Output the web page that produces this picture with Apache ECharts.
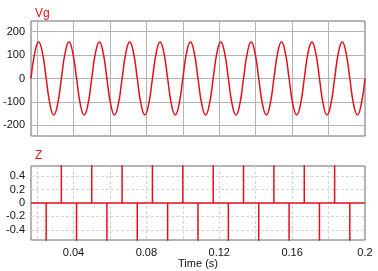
<!DOCTYPE html>
<html>
<head>
<meta charset="utf-8">
<script src="https://cdn.jsdelivr.net/npm/echarts@6/dist/echarts.min.js"></script>
<style>html,body{margin:0;padding:0;background:#fff}#c{width:378px;height:271px}</style>
</head>
<body>
<div id="c"></div>
<script>
// Time samples for Vg (s)
var vgTimes = [0.01667,0.01875,0.02083,0.02292,0.025,0.02708,0.02917,0.03125,0.03333,0.03542,0.0375,0.03958,0.04167,0.04375,0.04583,0.04792,0.05,0.05208,0.05417,0.05625,0.05833,0.06042,0.0625,0.06458,0.06667,0.06875,0.07083,0.07292,0.075,0.07708,0.07917,0.08125,0.08333,0.08542,0.0875,0.08958,0.09167,0.09375,0.09583,0.09792,0.1,0.10208,0.10417,0.10625,0.10833,0.11042,0.1125,0.11458,0.11667,0.11875,0.12083,0.12292,0.125,0.12708,0.12917,0.13125,0.13333,0.13542,0.1375,0.13958,0.14167,0.14375,0.14583,0.14792,0.15,0.15208,0.15417,0.15625,0.15833,0.16042,0.1625,0.16458,0.16667,0.16875,0.17083,0.17292,0.175,0.17708,0.17917,0.18125,0.18333,0.18542,0.1875,0.18958,0.19167,0.19375,0.19583,0.19792,0.2];
// Vg values (V)
var vgValues = [0,110,155,110,0,-110,-155,-110,0,110,155,110,0,-110,-155,-110,0,110,155,110,0,-110,-155,-110,0,110,155,110,0,-110,-155,-110,0,110,155,110,0,-110,-155,-110,0,110,155,110,0,-110,-155,-110,0,110,155,110,0,-110,-155,-110,0,110,155,110,0,-110,-155,-110,0,110,155,110,0,-110,-155,-110,0,110,155,110,0,-110,-155,-110,0,110,155,110,0,-110,-155,-110,0];
// Z pulses: times (s) and pulse values
var zPulseTimes = [0.025,0.03333,0.04167,0.05,0.05833,0.06667,0.075,0.08333,0.09167,0.1,0.10833,0.11667,0.125,0.13333,0.14167,0.15,0.15833,0.16667,0.175,0.18333,0.19167];
var zPulseValues = [-1,1,-1,1,-1,1,-1,1,-1,1,-1,1,-1,1,-1,1,-1,1,-1,1,-1];
var zStart = 0.01667, zEnd = 0.2;
// tick labels
var xLabelValues = [0.04,0.08,0.12,0.16,0.2];
var xGridValues = [0.02,0.04,0.06,0.08,0.1,0.12,0.14,0.16,0.18];
var vgTickValues = [-200,-100,0,100,200];
var zTickValues = [-0.4,-0.2,0,0.2,0.4];

var vgData = vgTimes.map(function(t,i){return [t, vgValues[i]];});
var zData = [[zStart,0]];
zPulseTimes.forEach(function(t,i){ zData.push([t,0],[t,zPulseValues[i]],[t,0]); });
zData.push([zEnd,0]);

var RED = '#e3101c';
var FONT = 'Liberation Sans';
var chart = echarts.init(document.getElementById('c'), null, {renderer:'canvas'});
chart.setOption({
  animation:false,
  textStyle:{fontFamily:FONT},
  title:[
    {text:'Vg', left:30, top:3, textStyle:{color:RED, fontSize:12, fontWeight:'normal', fontFamily:FONT}},
    {text:'Z', left:30, top:145, textStyle:{color:RED, fontSize:12, fontWeight:'normal', fontFamily:FONT}}
  ],
  grid:[
    {left:31, right:13, top:21, height:115, show:true, borderColor:'#6a6a6a', borderWidth:1, backgroundColor:'transparent'},
    {left:31, right:13, top:166, height:74, show:true, borderColor:'#6a6a6a', borderWidth:1, backgroundColor:'transparent'}
  ],
  xAxis:[
    {type:'value', gridIndex:0, min:zStart, max:zEnd, axisLine:{show:false}, axisTick:{show:false, customValues:xGridValues}, axisLabel:{show:false, customValues:xLabelValues},
     splitLine:{show:true, lineStyle:{color:'#b4b4b4', width:1}}},
    {type:'value', gridIndex:1, min:zStart, max:zEnd, name:'Time (s)', nameLocation:'middle', nameGap:18,
     nameTextStyle:{color:'#111', fontSize:11, fontFamily:FONT},
     axisLine:{show:false}, axisTick:{show:false, customValues:xGridValues},
     axisLabel:{show:true, customValues:xLabelValues, color:'#111', fontSize:11, fontFamily:FONT, margin:7,
       formatter:function(v){return String(+v.toFixed(2));}},
     splitLine:{show:true, lineStyle:{color:'#d4d4d4', width:1, type:[3,2]}}}
  ],
  yAxis:[
    {type:'value', gridIndex:0, min:-245, max:245, axisLine:{show:false}, axisTick:{show:false, customValues:vgTickValues},
     axisLabel:{customValues:vgTickValues, color:'#111', fontSize:11, fontFamily:FONT, margin:6},
     splitLine:{show:true, lineStyle:{color:'#b4b4b4', width:1}}},
    {type:'value', gridIndex:1, min:-0.55, max:0.55, axisLine:{show:false}, axisTick:{show:false, customValues:zTickValues},
     axisLabel:{customValues:zTickValues, color:'#111', fontSize:11, fontFamily:FONT, margin:6,
       formatter:function(v){return String(+v.toFixed(1));}},
     splitLine:{show:true, lineStyle:{color:'#d4d4d4', width:1, type:[3,2]}}}
  ],
  series:[
    {type:'line', xAxisIndex:0, yAxisIndex:0, data:vgData, smooth:true, showSymbol:false, lineStyle:{color:RED, width:1.5}, clip:true},
    {type:'line', xAxisIndex:1, yAxisIndex:1, data:zData, showSymbol:false, lineStyle:{color:RED, width:1.5}, clip:true}
  ]
});
</script>
</body>
</html>
